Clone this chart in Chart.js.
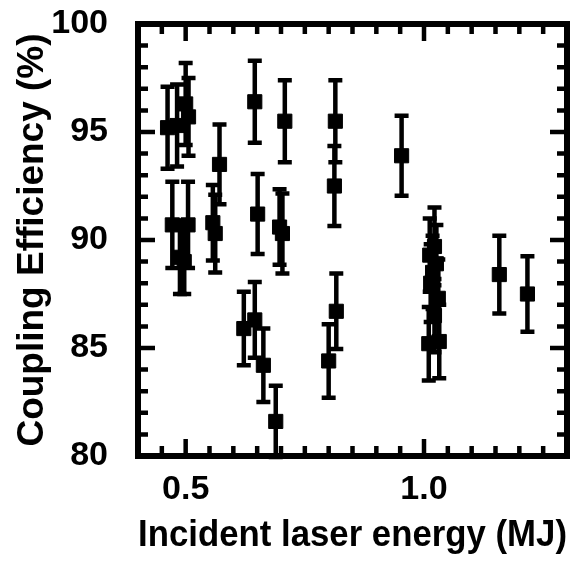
<!DOCTYPE html>
<html>
<head>
<meta charset="utf-8">
<script src="https://cdn.jsdelivr.net/npm/chart.js@4.4.0/dist/chart.umd.min.js"></script>
<style>
  html, body { margin: 0; padding: 0; background: #fff; }
  #wrap { width: 585px; height: 566px; }
</style>
</head>
<body>
<div id="wrap"><canvas id="grafico" width="585" height="566"></canvas></div>
<script>
// energia incidente (MJ), eficiencia de acoplamento (%) e barra de erro (+/-)
const energia = [
  0.462, 0.482, 0.500, 0.506,
  0.472, 0.505, 0.488, 0.497,
  0.571, 0.557, 0.562,
  0.645, 0.708, 0.651, 0.697, 0.703, 0.622, 0.645, 0.663, 0.689,
  0.814, 0.812, 0.816, 0.800,
  0.953,
  1.010, 1.032, 1.022, 1.012, 1.018, 1.014, 1.030, 1.022, 1.026,
  1.158, 1.217
];
const eficiencia = [
  95.2, 95.3, 96.3, 95.7,
  90.7, 90.7, 89.2, 89.0,
  93.5, 90.8, 90.3,
  96.4, 95.5, 91.2, 90.6, 90.3, 85.9, 86.3, 84.2, 81.6,
  95.5, 92.5, 86.7, 84.4,
  93.9,
  85.2, 85.3, 89.7, 89.3, 88.5, 88.0, 87.3, 86.5, 88.9,
  88.4, 87.5
];
const erro = [
  1.9, 1.9, 1.9, 1.8,
  2.0, 2.0, 1.7, 1.5,
  1.85, 1.75, 1.8,
  1.9, 1.9, 1.85, 1.75, 1.85, 1.7, 1.75, 1.7, 1.65,
  1.9, 1.85, 1.75, 1.7,
  1.85,
  1.7, 1.7, 1.8, 1.7, 1.7, 1.8, 1.8, 1.7, 1.8,
  1.8, 1.75
];
const xTicks = [0.5, 1.0];
const yTicks = [80, 85, 90, 95, 100];

const fonte = 'Liberation Sans, Arial, Helvetica, sans-serif';

// barras de erro com "chapeu" em cima e embaixo
const barrasErro = {
  id: 'barrasErro',
  beforeDatasetsDraw(chart) {
    const { ctx, scales: { x, y } } = chart;
    ctx.save();
    ctx.strokeStyle = '#000';
    ctx.lineWidth = 4.5;
    ctx.lineCap = 'butt';
    for (let i = 0; i < energia.length; i++) {
      const px = x.getPixelForValue(energia[i]);
      const topo = y.getPixelForValue(eficiencia[i] + erro[i]);
      const base = y.getPixelForValue(eficiencia[i] - erro[i]);
      ctx.beginPath();
      ctx.moveTo(px, topo);
      ctx.lineTo(px, base);
      ctx.moveTo(px - 7, topo);
      ctx.lineTo(px + 7, topo);
      ctx.moveTo(px - 7, base);
      ctx.lineTo(px + 7, base);
      ctx.stroke();
    }
    ctx.restore();
  }
};

// moldura com marcas para dentro nos quatro lados
const moldura = {
  id: 'moldura',
  afterDraw(chart) {
    const { ctx, chartArea: a, scales: { x, y } } = chart;
    ctx.save();
    ctx.strokeStyle = '#000';
    ctx.lineWidth = 4.5;
    ctx.beginPath();
    for (let k = 0; k <= 18; k++) {
      const v = 0.4 + k * 0.05;
      const maior = xTicks.some(t => Math.abs(t - v) < 1e-6);
      const len = maior ? 17 : 10;
      const px = x.getPixelForValue(v);
      ctx.moveTo(px, a.bottom);
      ctx.lineTo(px, a.bottom - len);
      ctx.moveTo(px, a.top);
      ctx.lineTo(px, a.top + len);
    }
    for (let v = 80; v <= 100; v++) {
      const len = v % 5 === 0 ? 17 : 10;
      const py = y.getPixelForValue(v);
      ctx.moveTo(a.left, py);
      ctx.lineTo(a.left + len, py);
      ctx.moveTo(a.right, py);
      ctx.lineTo(a.right - len, py);
    }
    ctx.stroke();
    ctx.lineWidth = 6;
    ctx.strokeRect(a.left, a.top, a.right - a.left, a.bottom - a.top);
    ctx.restore();
  }
};

const ctx = document.getElementById('grafico').getContext('2d');
new Chart(ctx, {
  type: 'scatter',
  data: {
    datasets: [{
      data: energia.map((e, i) => ({ x: e, y: eficiencia[i] })),
      pointStyle: 'rect',
      pointRadius: 10,
      pointHoverRadius: 10,
      backgroundColor: '#000',
      borderColor: '#000',
      borderWidth: 1
    }]
  },
  options: {
    responsive: false,
    animation: false,
    devicePixelRatio: 1,
    layout: { padding: { top: 24, right: 18, left: 0, bottom: 0 } },
    plugins: { legend: { display: false }, tooltip: { enabled: false } },
    scales: {
      x: {
        type: 'linear',
        min: 0.4,
        max: 1.3,
        afterBuildTicks: s => { s.ticks = xTicks.map(v => ({ value: v })); },
        afterFit: s => { s.height = 110; s.paddingLeft = 0; s.paddingRight = 0; },
        grid: { display: false, drawTicks: false },
        border: { display: false },
        ticks: {
          callback: v => v.toFixed(1),
          color: '#000',
          padding: 13,
          maxRotation: 0,
          font: { family: fonte, size: 34, weight: 'bold' }
        },
        title: {
          display: true,
          text: 'Incident laser energy (MJ)',
          color: '#000',
          padding: { top: 0, bottom: 8 },
          font: { family: fonte, size: 37, weight: 'bold' }
        }
      },
      y: {
        type: 'linear',
        min: 80,
        max: 100,
        afterBuildTicks: s => { s.ticks = yTicks.map(v => ({ value: v })); },
        afterFit: s => { s.width = 138; s.paddingTop = 0; s.paddingBottom = 0; },
        grid: { display: false, drawTicks: false },
        border: { display: false },
        ticks: {
          color: '#000',
          padding: 30,
          font: { family: fonte, size: 34, weight: 'bold' }
        },
        title: {
          display: true,
          text: 'Coupling Efficiency (%)',
          color: '#000',
          padding: { top: 11, bottom: 0 },
          font: { family: fonte, size: 37, weight: 'bold' }
        }
      }
    }
  },
  plugins: [barrasErro, moldura]
});
</script>
</body>
</html>
